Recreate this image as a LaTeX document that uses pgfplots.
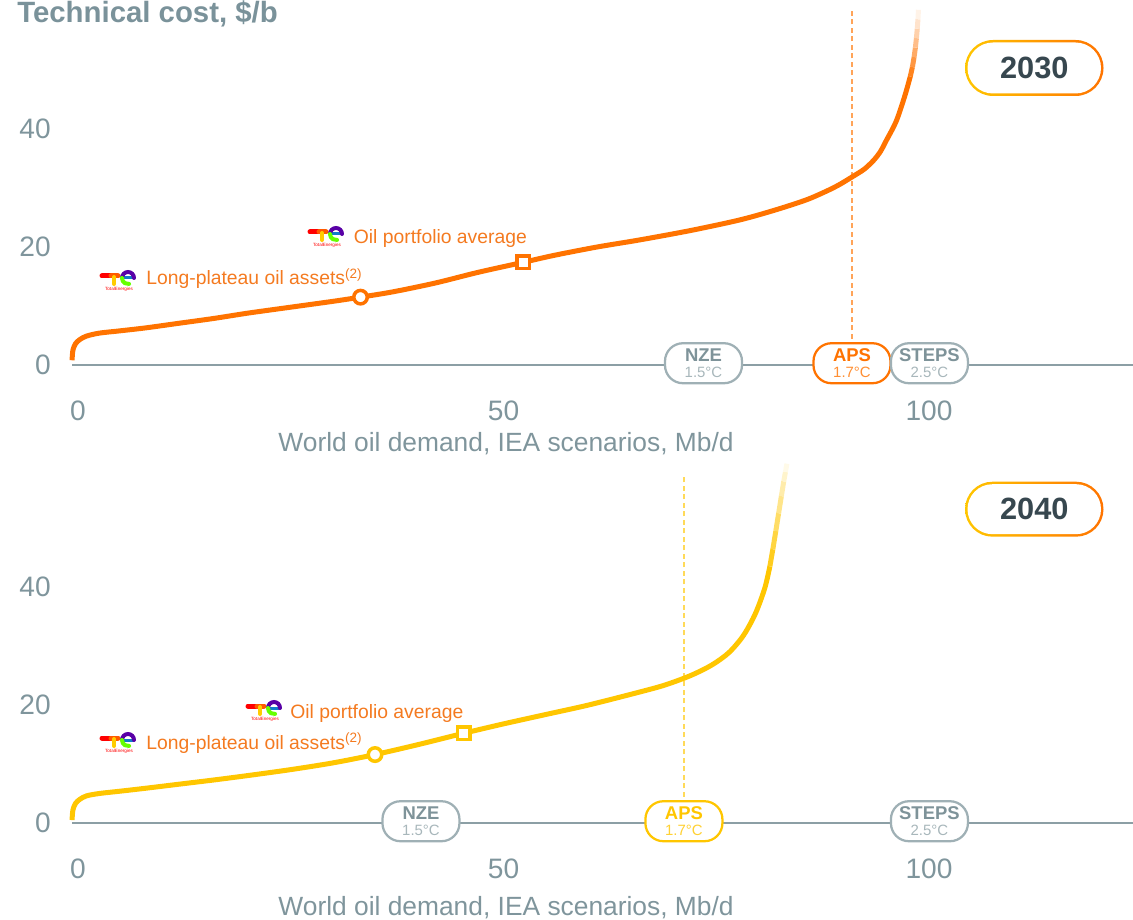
\documentclass[border=0pt]{standalone}
\usepackage{fontspec}
\setmainfont{Liberation Sans}
\usepackage{pgfplots}
\pgfplotsset{compat=1.18}

\definecolor{tkgray}{HTML}{7F959C}
\definecolor{axgray}{HTML}{8C9FA5}
\definecolor{badgegray}{HTML}{9FB0B5}
\definecolor{badgetxt}{HTML}{7E9399}
\definecolor{badgesub}{HTML}{A8B7BB}
\definecolor{titlegray}{HTML}{7A929A}
\definecolor{tor}{HTML}{FF7300}
\definecolor{tyl}{HTML}{FFC600}
\definecolor{annot}{HTML}{F47A20}
\definecolor{yeartxt}{HTML}{37474F}

\pgfplotsset{
  tcplot/.style={
    x=1.702mm, y=1.18mm,
    xmin=-0.7, xmax=124, ymin=-5,
    axis line style={draw=none},
    tick style={draw=none},
    xtick={0,50,100}, ytick={0,20,40},
    ticklabel style={font=\fontsize{16}{16}\selectfont, text=tkgray},
    yticklabel style={inner sep=0pt, xshift=-4.2mm},
    xticklabel style={inner sep=0pt, yshift=-1.2mm},
    /pgf/number format/assume math mode=true,
    clip=false,
  },
}
\tikzset{
  badge/.style={draw=#1, line width=0.45mm, fill=white, rounded corners=3.6mm,
    minimum width=15.4mm, minimum height=8mm, inner sep=0pt, align=center,
    font=\fontsize{8.5}{9}\selectfont},
}

% small stand-in for the company logo, top-left corner given in mm
\newcommand{\telogo}[2]{%
  \begin{scope}[shift={(#1,#2)}, x=0.2mm, y=-0.2mm, line cap=round]
    \draw[line width=1mm, red] (1,8) -- (10,8);
    \draw[line width=1mm, orange!70!red] (10,8) -- (17,8);
    \draw[line width=0.8mm, orange!40!yellow] (13,9) -- (13,16);
    \draw[line width=0.6mm, cyan!60!blue] (21,10) -- (33,10);
    \draw[line width=0.8mm, violet!70!blue] (33,10) arc[start angle=0, end angle=-180, radius=6];
    \draw[line width=0.8mm, green!60!yellow] (21,10) arc[start angle=180, end angle=80, radius=6];
    \node[inner sep=0pt, text=red, font=\fontsize{2.6}{2.6}\selectfont] at (18,21) {TotalEnergies};
  \end{scope}}

\begin{document}
\begin{tikzpicture}

% ---------- 2030 ----------
\begin{axis}[tcplot, ymax=62, at={(14.41mm,104.9mm)}, anchor=south west]
  \draw[axgray, line width=0.5mm] (axis cs:-0.7,0) -- (axis cs:124,0);
  \addplot[tor!65!white, line width=0.25mm, dash pattern=on 1mm off 0.7mm]
    coordinates {(90.95,3) (90.95,60)};
  \addplot[tor, line width=1mm, smooth] coordinates {
    (-0.7,0.8) (-0.6,2.5) (-0.3,3.6) (0.2,4.3) (1.0,4.9) (2.5,5.4) (5,5.8)
    (8,6.3) (12,7.1) (16,7.9) (20,8.8) (25,9.8) (30,10.8) (33.2,11.5)
    (37,12.4) (42,13.9) (47,15.7) (52.3,17.4) (56,18.6) (61,20.0) (66,21.2)
    (72,22.8) (77.8,24.6) (82,26.3) (85.6,28.0) (88,29.5) (89.5,30.6)
    (91.1,32.0) (92.4,33.2) (93.5,34.7) (94.3,36.2) (95.0,38.1) (95.6,39.7)
    (96.2,41.5) (96.8,44.0) (97.3,46.3) (97.8,48.9)};
  \addplot[tor!88!white, line width=1mm] coordinates {(97.8,48.9) (98.05,50.5)};
  \addplot[tor!74!white, line width=1mm] coordinates {(98.05,50.5) (98.25,52.2)};
  \addplot[tor!60!white, line width=1mm] coordinates {(98.25,52.2) (98.4,53.8)};
  \addplot[tor!46!white, line width=1mm] coordinates {(98.4,53.8) (98.52,55.4)};
  \addplot[tor!33!white, line width=1mm] coordinates {(98.52,55.4) (98.62,57)};
  \addplot[tor!20!white, line width=1mm] coordinates {(98.62,57) (98.7,58.6)};
  \addplot[tor!9!white, line width=1mm] coordinates {(98.7,58.6) (98.76,60.2)};
  \addplot[only marks, mark=*, mark size=1.35mm,
    mark options={fill=white, draw=tor, line width=0.7mm}] coordinates {(33.2,11.5)};
  \addplot[only marks, mark=square*, mark size=1.25mm,
    mark options={fill=white, draw=tor, line width=0.7mm}] coordinates {(52.3,17.4)};
  \node[badge=badgegray] at (axis cs:73.5,0.3)
    {{\fontsize{10.5}{10.5}\selectfont\bfseries\color{badgetxt}NZE}\\{\color{badgesub}1.5°C}};
  \node[badge=tor] at (axis cs:90.95,0.3)
    {{\fontsize{10.5}{10.5}\selectfont\bfseries\color{tor}APS}\\{\color{tor!80!white}1.7°C}};
  \node[badge=badgegray] at (axis cs:100.05,0.3)
    {{\fontsize{10.5}{10.5}\selectfont\bfseries\color{badgetxt}STEPS}\\{\color{badgesub}2.5°C}};
  \node[anchor=base, inner sep=0pt, text=tkgray, font=\fontsize{15}{15}\selectfont]
    at (axis cs:50.3,-14.7) {World oil demand, IEA scenarios, Mb/d};
\end{axis}

% ---------- 2040 ----------
\begin{axis}[tcplot, ymax=61.5, at={(14.41mm,13.3mm)}, anchor=south west]
  \draw[axgray, line width=0.5mm] (axis cs:-0.7,0) -- (axis cs:124,0);
  \addplot[tyl!65!white, line width=0.25mm, dash pattern=on 1mm off 0.7mm]
    coordinates {(71.2,3) (71.2,59)};
  \addplot[tyl, line width=1mm, smooth] coordinates {
    (-0.7,0.5) (-0.6,2.2) (-0.3,3.3) (0.2,4.0) (1.0,4.6) (2.5,5.0) (5,5.4)
    (8,5.9) (12,6.6) (16,7.3) (20,8.05) (25,9.05) (30,10.2) (34.9,11.6)
    (40,13.3) (45.3,15.2) (50,16.8) (55,18.4) (60,20.0) (66,22.2)
    (69,23.4) (72,25.0) (74.5,26.8) (76.5,28.9) (78.2,31.8) (79.6,35.5)
    (80.7,39.8) (81.3,43.5)};
  \addplot[tyl!88!white, line width=1mm] coordinates {(81.3,43.5) (81.65,46.4)};
  \addplot[tyl!74!white, line width=1mm] coordinates {(81.65,46.4) (82.0,49.5)};
  \addplot[tyl!60!white, line width=1mm] coordinates {(82.0,49.5) (82.33,52.5)};
  \addplot[tyl!46!white, line width=1mm] coordinates {(82.33,52.5) (82.65,55.4)};
  \addplot[tyl!33!white, line width=1mm] coordinates {(82.65,55.4) (82.93,57.9)};
  \addplot[tyl!20!white, line width=1mm] coordinates {(82.93,57.9) (83.13,59.5)};
  \addplot[tyl!9!white, line width=1mm] coordinates {(83.13,59.5) (83.3,60.9)};
  \addplot[only marks, mark=*, mark size=1.35mm,
    mark options={fill=white, draw=tyl, line width=0.7mm}] coordinates {(34.9,11.6)};
  \addplot[only marks, mark=square*, mark size=1.25mm,
    mark options={fill=white, draw=tyl, line width=0.7mm}] coordinates {(45.3,15.2)};
  \node[badge=badgegray] at (axis cs:40.3,0.3)
    {{\fontsize{10.5}{10.5}\selectfont\bfseries\color{badgetxt}NZE}\\{\color{badgesub}1.5°C}};
  \node[badge=tyl] at (axis cs:71.2,0.3)
    {{\fontsize{10.5}{10.5}\selectfont\bfseries\color{tyl}APS}\\{\color{tyl!80!white}1.7°C}};
  \node[badge=badgegray] at (axis cs:100.05,0.3)
    {{\fontsize{10.5}{10.5}\selectfont\bfseries\color{badgetxt}STEPS}\\{\color{badgesub}2.5°C}};
  \node[anchor=base, inner sep=0pt, text=tkgray, font=\fontsize{15}{15}\selectfont]
    at (axis cs:50.3,-15.6) {World oil demand, IEA scenarios, Mb/d};
\end{axis}

% title
\node[anchor=base west, inner sep=0pt, text=titlegray, font=\fontsize{16.7}{17}\selectfont\bfseries]
  at (3.4mm,179.2mm) {Technical cost, \$/b};

% year badges
\shade[left color=tyl, right color=tor, rounded corners=5.6mm] (193mm,164.6mm) rectangle (220.7mm,175.8mm);
\fill[white, rounded corners=5.1mm] (193.5mm,165.1mm) rectangle (220.2mm,175.3mm);
\node[text=yeartxt, font=\fontsize{17.5}{17.5}\selectfont\bfseries] at (206.85mm,170.2mm) {2030};
\shade[left color=tyl, right color=tor, rounded corners=5.5mm] (193mm,76.46mm) rectangle (220.7mm,87.46mm);
\fill[white, rounded corners=5mm] (193.5mm,76.96mm) rectangle (220.2mm,86.96mm);
\node[text=yeartxt, font=\fontsize{17.5}{17.5}\selectfont\bfseries] at (206.85mm,81.96mm) {2040};

% annotations
\telogo{20.2mm}{130.2mm}
\telogo{61.8mm}{139mm}
\node[anchor=base west, inner sep=0pt, text=annot, font=\fontsize{11}{11}\selectfont]
  at (29.2mm,126.8mm) {Long-plateau oil assets\textsuperscript{(2)}};
\node[anchor=base west, inner sep=0pt, text=annot, font=\fontsize{11}{11}\selectfont]
  at (70.7mm,135.1mm) {Oil portfolio average};
\telogo{20.2mm}{37.8mm}
\telogo{49.4mm}{44.2mm}
\node[anchor=base west, inner sep=0pt, text=annot, font=\fontsize{11}{11}\selectfont]
  at (29.2mm,33.9mm) {Long-plateau oil assets\textsuperscript{(2)}};
\node[anchor=base west, inner sep=0pt, text=annot, font=\fontsize{11}{11}\selectfont]
  at (58mm,40.1mm) {Oil portfolio average};

\pgfresetboundingbox
\useasboundingbox (0,0) rectangle (226.6mm,183.8mm);
\end{tikzpicture}
\end{document}
